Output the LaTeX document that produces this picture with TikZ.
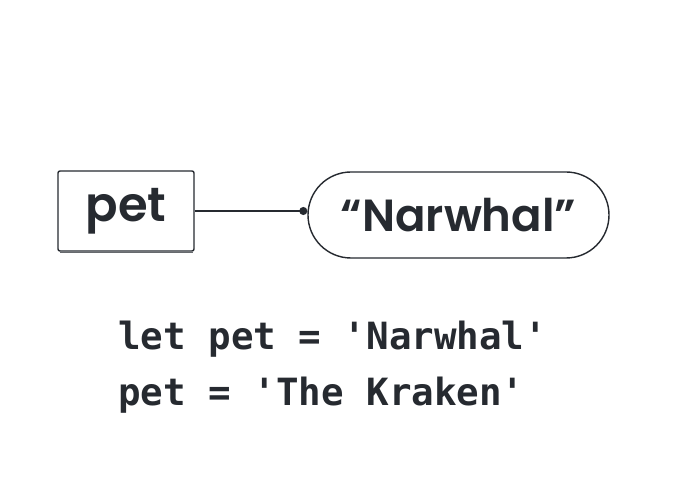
\documentclass[tikz,border=0pt]{standalone}
\usepackage{fontspec}
\setmainfont{Poppins SemiBold}
\newfontfamily\codefont{DejaVu Sans Mono}
\usetikzlibrary{arrows.meta}
\definecolor{ink}{HTML}{262A30}
\begin{document}
\begin{tikzpicture}[x=1pt,y=1pt,
  sketch/.style={draw=ink, line width=1.4pt},
  varbox/.style={sketch, fill=white, minimum width=136pt, minimum height=80pt, inner sep=0pt, rounded corners=2pt, font=\fontsize{48}{48}\selectfont\color{ink}},
  valpill/.style={sketch, fill=white, minimum width=301pt, minimum height=86pt, inner sep=0pt, rounded corners=43pt, font=\fontsize{45}{45}\selectfont\color{ink}},
  code/.style={anchor=base west, inner sep=0pt, text=ink, font=\codefont\bfseries\fontsize{37.5}{37.5}\selectfont}
]
\useasboundingbox (0,0) rectangle (700,479);
\fill[white] (0,0) rectangle (700,479);
\draw[ink!70, line width=1.6pt] (60,226.5) -- (193,226.5);
\node[varbox] (pet) at (126,268) {pet};
\node[valpill] (val) at (458.5,264) {“Narwhal”};
\draw[sketch, -{Circle[length=8pt]}] (pet.east) -- (pet.east -| val.west);
\node[code] (l1) at (118,129) {let pet = 'Narwhal'};
\node[code] (l2) at (118,74) {pet = 'The Kraken'};
\end{tikzpicture}
\end{document}
